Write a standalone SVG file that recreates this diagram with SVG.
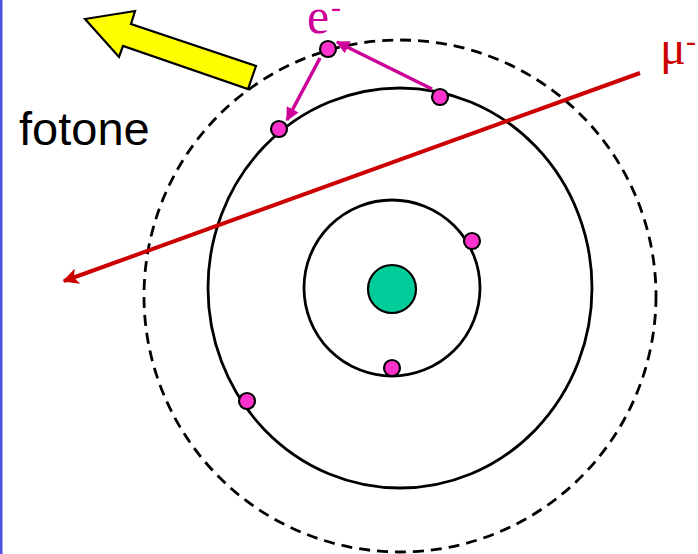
<svg xmlns="http://www.w3.org/2000/svg" width="698" height="554" viewBox="0 0 698 554">
<defs>
<style>
.orbit{fill:none;stroke:#000;stroke-width:2.8}
.dash{fill:none;stroke:#000;stroke-width:2.8;stroke-dasharray:11 7}
.el{fill:#ff33cc;stroke:#000;stroke-width:2.2}
.mag{stroke:#cc0099;stroke-width:3.5;fill:none}
.red{stroke:#cc0000;stroke-width:4;fill:none}
.serif{font-family:"Liberation Serif","Times New Roman",serif}
</style>
<marker id="am" viewBox="0 0 10 10" refX="9" refY="5" markerWidth="4.4" markerHeight="3.8" orient="auto" markerUnits="strokeWidth"><path d="M0,0L10,5L0,10z" fill="#cc0099"/></marker>
<marker id="ar" viewBox="0 0 10 10" refX="9" refY="5" markerWidth="4.6" markerHeight="4" orient="auto" markerUnits="strokeWidth"><path d="M0,0L10,5L0,10L2.5,5z" fill="#cc0000"/></marker>
</defs>
<rect width="698" height="554" fill="#fff"/>
<rect x="0" y="0" width="2.5" height="554" fill="#5050e0"/>
<g id="orbits">
<circle class="dash" cx="400" cy="296" r="256"/>
<ellipse class="orbit" cx="400" cy="288" rx="192" ry="200"/>
<circle class="orbit" cx="392" cy="288" r="88"/>
</g>
<g id="nucleus"><circle cx="392" cy="289" r="24" fill="#00cc99" stroke="#000" stroke-width="2.2"/></g>
<g id="photon"><polygon points="85,19 135,11 131,24 256,66 248,89 123,46 119,57" fill="#ffff00" stroke="#000" stroke-width="2.2" stroke-linejoin="miter"/></g>
<g id="connectors">
<line class="red" x1="640" y1="73" x2="64" y2="281" marker-end="url(#ar)"/>
<line class="mag" x1="432" y1="89" x2="337" y2="42" marker-end="url(#am)"/>
<line class="mag" x1="320" y1="58" x2="287" y2="120" marker-end="url(#am)"/>
</g>
<g id="electrons">
<circle class="el" cx="328" cy="49" r="8"/>
<circle class="el" cx="440" cy="97" r="8"/>
<circle class="el" cx="279" cy="129" r="8"/>
<circle class="el" cx="472" cy="241" r="8"/>
<circle class="el" cx="392" cy="368" r="8"/>
<circle class="el" cx="247" cy="401" r="8"/>
</g>
<g id="labels">
<text x="19" y="145" font-family="Liberation Sans, Arial, sans-serif" font-size="47" fill="#000">fotone</text>
<text class="serif" x="307" y="33" font-size="50" fill="#cc0099">e</text>
<text class="serif" x="331" y="17" font-size="30" fill="#cc0099">-</text>
<text class="serif" x="660" y="64" font-size="48" fill="#cc0000">μ</text>
<text class="serif" x="686" y="51" font-size="30" fill="#cc0000">-</text>
</g>
</svg>
